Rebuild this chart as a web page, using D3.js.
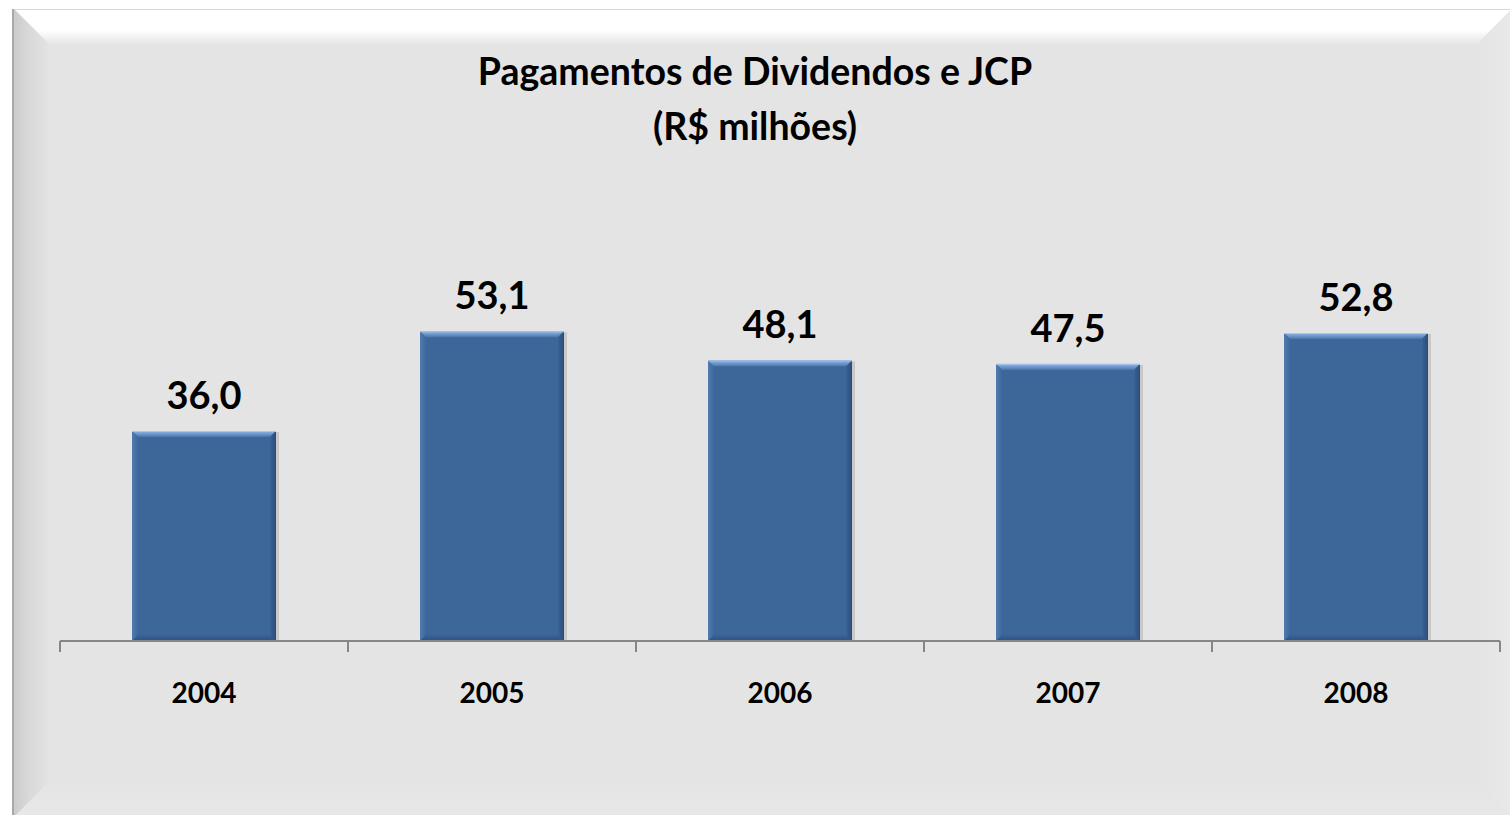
<!DOCTYPE html>
<html>
<head>
<meta charset="utf-8">
<script src="https://cdn.jsdelivr.net/npm/d3@7"></script>
<style>
  html, body { margin: 0; padding: 0; background: #ffffff; }
  svg { display: block; }
  text { font-family: Lato, "Open Sans", sans-serif; font-weight: bold; fill: #000; }
</style>
</head>
<body>
<svg id="chart"></svg>
<script>
// Données du graphique
const years = ["2004", "2005", "2006", "2007", "2008"];
const payments = [36.0, 53.1, 48.1, 47.5, 52.8];
const titleLines = ["Pagamentos de Dividendos e JCP", "(R$ milhões)"];

const width = 1510;
const height = 815;
const fmt = (v) => v.toFixed(1).replace(".", ",");

const svg = d3.select("#chart").attr("width", width).attr("height", height);
const defs = svg.append("defs");

// Dégradés du cadre biseauté
function linGrad(id, x1, y1, x2, y2, stops) {
  const g = defs.append("linearGradient").attr("id", id)
    .attr("x1", x1).attr("y1", y1).attr("x2", x2).attr("y2", y2);
  stops.forEach(([o, c]) => g.append("stop").attr("offset", o).attr("stop-color", c));
}
linGrad("bevTop", 0, 0, 0, 1, [[0, "#ffffff"], [0.6, "#ffffff"], [1, "#e6e6e6"]]);
linGrad("bevLeft", 0, 0, 1, 0, [[0, "#cbcbcb"], [0.4, "#d8d8d8"], [1, "#e3e3e3"]]);
linGrad("bevBottom", 0, 0, 0, 1, [[0, "#e4e4e4"], [1, "#e8e8e8"]]);
linGrad("bevRight", 0, 0, 1, 0, [[0, "#e4e4e4"], [1, "#e9e9e9"]]);
linGrad("barTop", 0, 0, 0, 1, [[0, "#8fb4e3"], [0.5, "#6f97cf"], [1, "#4a74a8"]]);
linGrad("barLeft", 0, 0, 1, 0, [[0, "#4f7bb1"], [1, "#3e6899"]]);
linGrad("barRight", 0, 0, 1, 0, [[0, "#3a6294"], [1, "#2b4d78"]]);
linGrad("barBottom", 0, 0, 0, 1, [[0, "#3b6394"], [1, "#2e5180"]]);

// Cadre
const px0 = 14, py0 = 9, px1 = 1512, py1 = 817, bev = 35;
svg.append("rect").attr("x", px0 - 2).attr("y", py0).attr("width", 2).attr("height", py1 - py0)
  .attr("fill", "#a8a8a8");
svg.append("rect").attr("x", px0).attr("y", py0).attr("width", px1 - px0).attr("height", py1 - py0)
  .attr("fill", "#e4e4e4");
const poly = (pts, fill) => svg.append("polygon").attr("points", pts.map((p) => p.join(",")).join(" ")).attr("fill", fill);
poly([[px0, py0], [px1, py0], [px1 - bev, py0 + bev], [px0 + bev, py0 + bev]], "url(#bevTop)");
poly([[px0, py0], [px0 + bev, py0 + bev], [px0 + bev, py1 - bev], [px0, py1]], "url(#bevLeft)");
poly([[px0, py1], [px0 + bev, py1 - bev], [px1 - bev, py1 - bev], [px1, py1]], "url(#bevBottom)");
poly([[px1, py0], [px1, py1], [px1 - bev, py1 - bev], [px1 - bev, py0 + bev]], "url(#bevRight)");
svg.append("line").attr("x1", px0).attr("x2", px1).attr("y1", py0 + 0.5).attr("y2", py0 + 0.5)
  .attr("stroke", "#d8d8d8");

// Échelles
const x = d3.scaleBand().domain(years).range([60, 1500]).paddingInner(0).paddingOuter(0);
const y = d3.scaleLinear().domain([0, 60]).range([641, 291]);
const barW = x.bandwidth() * 0.5;

// Titre
svg.append("text").attr("x", 755).attr("y", 85).attr("text-anchor", "middle")
  .style("font-size", "37.5px").text(titleLines[0]);
svg.append("text").attr("x", 755).attr("y", 140).attr("text-anchor", "middle")
  .style("font-size", "37.5px").text(titleLines[1]);

// Barres biseautées
const bars = svg.append("g").selectAll("g").data(years).join("g");
bars.each(function (d, i) {
  const g = d3.select(this);
  const x0 = x(d) + (x.bandwidth() - barW) / 2;
  const x1 = x0 + barW;
  const yt = y(payments[i]);
  const yb = y(0);
  const b = 6;
  const p = (pts, fill) => g.append("polygon").attr("points", pts.map((q) => q.join(",")).join(" ")).attr("fill", fill);
  // ombre
  g.append("rect").attr("x", x0 + 1).attr("y", yt + 1).attr("width", barW + 2).attr("height", yb - yt - 1)
    .attr("fill", "#000").attr("opacity", 0.12);
  g.append("rect").attr("x", x0).attr("y", yt).attr("width", barW).attr("height", yb - yt)
    .attr("fill", "#3d6699");
  p([[x0, yt], [x1, yt], [x1 - b, yt + b], [x0 + b, yt + b]], "url(#barTop)");
  p([[x0, yt], [x0 + b, yt + b], [x0 + b, yb - b], [x0, yb]], "url(#barLeft)");
  p([[x1, yt], [x1, yb], [x1 - b, yb - b], [x1 - b, yt + b]], "url(#barRight)");
  p([[x0, yb], [x0 + b, yb - b], [x1 - b, yb - b], [x1, yb]], "url(#barBottom)");
  g.append("line").attr("x1", x0).attr("x2", x1).attr("y1", yt + 0.5).attr("y2", yt + 0.5)
    .attr("stroke", "#a9c6ee").attr("stroke-width", 1);
});

// Étiquettes de valeurs
svg.append("g").selectAll("text").data(years).join("text")
  .attr("x", (d) => x(d) + x.bandwidth() / 2)
  .attr("y", (d, i) => y(payments[i]) - 22)
  .attr("text-anchor", "middle")
  .style("font-size", "38px")
  .text((d, i) => fmt(payments[i]));

// Axe horizontal
const axis = svg.append("g").attr("transform", "translate(0,641)")
  .call(d3.axisBottom(x).tickSize(0).tickPadding(0).tickFormat(""));
axis.select(".domain").remove();
axis.append("line").attr("x1", 60).attr("x2", 1500).attr("stroke", "#868686").attr("stroke-width", 2);
const edges = years.map((d) => x(d)).concat([x(years[years.length - 1]) + x.bandwidth()]);
axis.selectAll(".edge").data(edges).join("line").attr("class", "edge")
  .attr("x1", (d) => d).attr("x2", (d) => d).attr("y1", 0).attr("y2", 11)
  .attr("stroke", "#868686").attr("stroke-width", 2);
axis.selectAll(".tick").each(function (d) {
  d3.select(this).append("text").attr("y", 62).attr("text-anchor", "middle")
    .style("font-size", "28px").style("fill", "#000").text(d);
});
</script>
</body>
</html>
